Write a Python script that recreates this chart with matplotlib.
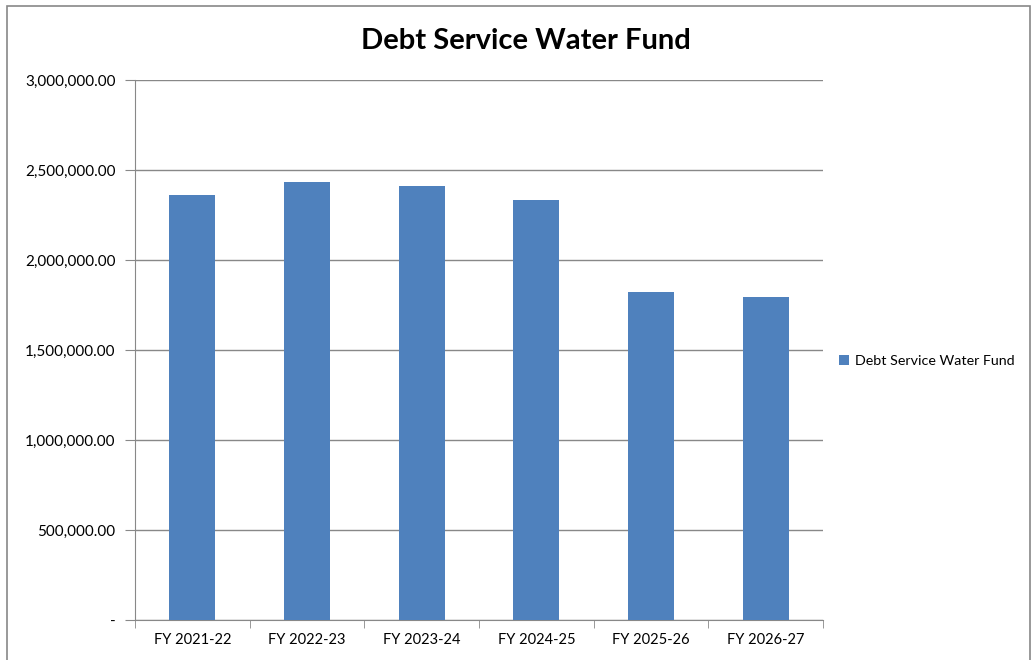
import matplotlib.pyplot as plt
from matplotlib.patches import Rectangle
from matplotlib.ticker import FuncFormatter, MultipleLocator

plt.rcParams['font.family'] = ['Lato', 'DejaVu Sans']

categories = ["FY 2021-22", "FY 2022-23", "FY 2023-24", "FY 2024-25", "FY 2025-26", "FY 2026-27"]
values = [2361000, 2433000, 2413000, 2336000, 1822000, 1794000]
series_name = "Debt Service Water Fund"
bar_color = "#4F81BD"
grid_color = "#888888"


def fmt(v, pos):
    if v == 0:
        return "-"
    return f"{v:,.2f}"


fig = plt.figure(figsize=(10.34, 6.6), dpi=100)
ax = fig.add_axes([135/1034, 1 - 620/660, (823 - 135)/1034, (620 - 80)/660])

x = range(len(categories))
ax.bar(x, values, width=0.4, color=bar_color, label=series_name, zorder=3)

ax.set_xlim(-0.5, len(categories) - 0.5)
ax.set_ylim(0, 3000000)
ax.yaxis.set_major_locator(MultipleLocator(500000))
ax.yaxis.set_major_formatter(FuncFormatter(fmt))
ax.grid(axis='y', color=grid_color, linewidth=1, zorder=0)

ax.set_xticks(list(x))
ax.set_xticklabels(categories, fontsize=10.5)
ax.tick_params(axis='x', length=0, pad=9)
ax.set_xticks([i - 0.5 for i in range(len(categories) + 1)], minor=True)
ax.tick_params(axis='x', which='minor', length=6, color=grid_color)
ax.tick_params(axis='y', length=7, color=grid_color, labelsize=11, pad=7)

for side in ['top', 'right']:
    ax.spines[side].set_visible(False)
ax.spines['left'].set_color(grid_color)
ax.spines['bottom'].set_color(grid_color)

fig.text(526/1034, 1 - 41/660, "Debt Service Water Fund", ha='center', va='center',
         fontsize=21, fontweight='bold')

ax.legend(loc='center left', bbox_to_anchor=(1.005, 0.48), frameon=False,
          fontsize=10.3, handlelength=0.7, handleheight=0.7, handletextpad=0.4)

# outer chart border
fig.patches.append(Rectangle((7/1034, -0.01), 1 - 11/1034, 1 - 6/660 + 0.01,
                             transform=fig.transFigure, fill=False,
                             edgecolor="#888888", linewidth=1.2))

fig.savefig("out.png", dpi=100)
